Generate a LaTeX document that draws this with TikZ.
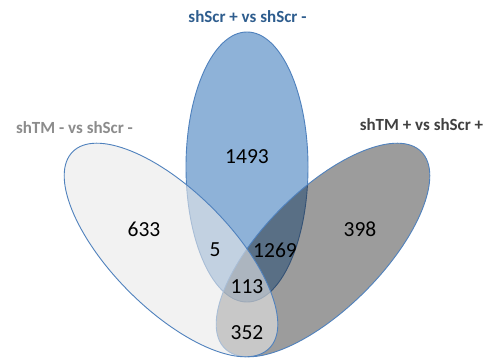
\documentclass[tikz,border=0pt]{standalone}
\usepackage{fontspec}
\setmainfont{Carlito}
\begin{document}
\begin{tikzpicture}[x=1pt,y=1pt,
  outline/.style={draw=edgeblue,line width=0.9pt},
  num/.style={inner sep=0pt,font=\fontsize{21.5}{24}\selectfont,text=black},
  lab/.style={inner sep=0pt,font=\fontsize{17}{20}\selectfont\bfseries}]
\definecolor{edgeblue}{RGB}{79,129,189}
\definecolor{topblue}{RGB}{142,178,216}
\definecolor{darkgray}{RGB}{14,14,14}
\definecolor{lightfill}{RGB}{233,233,233}
\definecolor{toplab}{RGB}{46,93,142}
\definecolor{leftlab}{RGB}{140,140,140}
\definecolor{rightlab}{RGB}{64,64,64}
\useasboundingbox (0,0) rectangle (489,358);
\fill[white] (0,0) rectangle (489,358);
% top (blue) set
\fill[topblue] (247,191) ellipse [x radius=61pt, y radius=135pt];
\draw[outline] (247,191) ellipse [x radius=61pt, y radius=135pt];
% right (gray) set
\fill[darkgray,fill opacity=0.407,rotate around={45:(323,108)}] (323,108) ellipse [x radius=139pt, y radius=59pt];
\draw[outline,rotate around={45:(323,108)}] (323,108) ellipse [x radius=139pt, y radius=59pt];
% left (light) set
\fill[lightfill,fill opacity=0.58,rotate around={-45:(171,108)}] (171,108) ellipse [x radius=139pt, y radius=59pt];
\draw[outline,rotate around={-45:(171,108)}] (171,108) ellipse [x radius=139pt, y radius=59pt];
% labels
\node[lab,text=toplab] (ltop) at (247.5,341) {shScr + vs shScr -};
\node[lab,text=leftlab] (lleft) at (74.5,230) {shTM - vs shScr -};
\node[lab,text=rightlab] (lright) at (421.5,233) {shTM + vs shScr +};
% counts
\node[num] (n1493) at (247,201) {1493};
\node[num] (n633) at (144,129) {633};
\node[num] (n5) at (215,108) {5};
\node[num] (n1269) at (275,108) {1269};
\node[num] (n398) at (360,129) {398};
\node[num] (n113) at (247,71) {113};
\node[num] (n352) at (247,25) {352};
\end{tikzpicture}
\end{document}
